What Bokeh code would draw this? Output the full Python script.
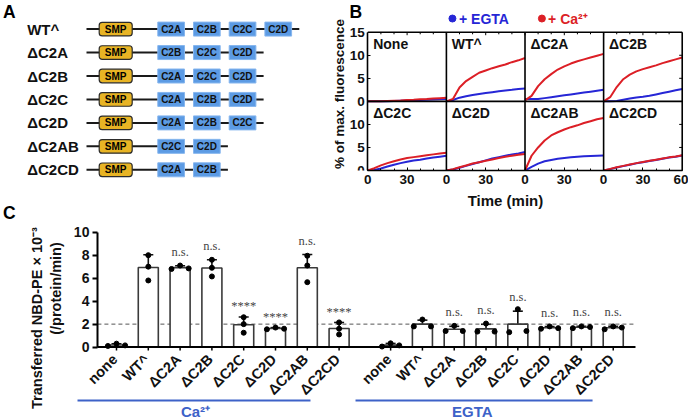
import numpy as np
from math import pi
from bokeh.plotting import figure
from bokeh.models import FixedTicker, Whisker, TeeHead, ColumnDataSource
from bokeh.layouts import column, row
from bokeh.embed import file_html
from bokeh.resources import INLINE
from bokeh.core.properties import value

FONT = "Liberation Sans"
SERIF = "Liberation Serif"
RED = "#dc1f26"
BLUE = "#2626d6"

# ---------------- Panel A data ----------------
constructs = ["WT^", "ΔC2A", "ΔC2B", "ΔC2C", "ΔC2D", "ΔC2AB", "ΔC2CD"]
construct_domains = [
    ["C2A", "C2B", "C2C", "C2D"],
    ["C2B", "C2C", "C2D"],
    ["C2A", "C2C", "C2D"],
    ["C2A", "C2B", "C2D"],
    ["C2A", "C2B", "C2C"],
    ["C2C", "C2D"],
    ["C2A", "C2B"],
]
smp_label = "SMP"

# ---------------- Panel B data ----------------
time_min = [0, 5, 10, 15, 20, 25, 30, 35, 40, 45, 50, 55, 60]
panel_names = ["None", "WT^", "ΔC2A", "ΔC2B", "ΔC2C", "ΔC2D", "ΔC2AB", "ΔC2CD"]
none_egta = [0, 0, 0, 0.05, 0.1, 0.15, 0.2, 0.25, 0.3, 0.35, 0.4, 0.45, 0.5]
none_ca = [0, 0, 0.05, 0.1, 0.15, 0.2, 0.3, 0.35, 0.45, 0.5, 0.6, 0.7, 0.8]
wt_egta = [0, 0.3, 0.8, 1.1, 1.4, 1.6, 1.8, 2.0, 2.2, 2.35, 2.5, 2.7, 2.8]
wt_ca = [0, 0.5, 3.0, 4.4, 5.3, 6.2, 6.7, 7.2, 7.6, 8.0, 8.5, 8.9, 9.4]
c2a_egta = [0.5, 0.5, 0.5, 0.7, 0.9, 1.1, 1.3, 1.5, 1.7, 1.9, 2.1, 2.3, 2.5]
c2a_ca = [0.2, 1.2, 3.3, 4.8, 5.9, 6.9, 7.6, 8.2, 8.7, 9.1, 9.5, 9.9, 10.3]
c2b_egta = [0, 0, 0.1, 0.35, 0.6, 0.85, 1.0, 1.2, 1.5, 1.8, 2.1, 2.4, 2.7]
c2b_ca = [0, 0.9, 3.1, 4.8, 5.8, 6.5, 7.0, 7.4, 7.8, 8.3, 8.7, 9.1, 9.5]
c2c_egta = [0, 0.1, 0.45, 0.85, 1.25, 1.6, 1.9, 2.15, 2.35, 2.6, 2.8, 3.0, 3.2]
c2c_ca = [0, 0.5, 1.1, 1.6, 2.0, 2.4, 2.7, 2.9, 3.1, 3.3, 3.5, 3.7, 3.85]
c2d_egta = [0, 0.2, 0.6, 1.0, 1.4, 1.8, 2.2, 2.6, 2.9, 3.2, 3.5, 3.7, 4.0]
c2d_ca = [0, 0.3, 0.7, 1.1, 1.5, 1.8, 2.1, 2.4, 2.7, 3.0, 3.2, 3.4, 3.6]
c2ab_egta = [0, 0.8, 1.5, 2.0, 2.3, 2.55, 2.7, 2.85, 3.0, 3.1, 3.15, 3.2, 3.25]
c2ab_ca = [0, 3.2, 5.0, 6.5, 7.6, 8.3, 8.9, 9.4, 9.8, 10.3, 10.7, 11.1, 11.4]
c2cd_egta = [0, 0.3, 0.65, 0.95, 1.25, 1.55, 1.8, 2.05, 2.3, 2.55, 2.8, 3.0, 3.25]
c2cd_ca = [0, 0.35, 0.7, 1.0, 1.3, 1.6, 1.85, 2.1, 2.35, 2.6, 2.85, 3.05, 3.3]
egta_curves = [none_egta, wt_egta, c2a_egta, c2b_egta, c2c_egta, c2d_egta, c2ab_egta, c2cd_egta]
ca_curves = [none_ca, wt_ca, c2a_ca, c2b_ca, c2c_ca, c2d_ca, c2ab_ca, c2cd_ca]
legend_labels = ["+ EGTA", "+ Ca²⁺"]

# ---------------- Panel C data ----------------
bar_labels = ["none", "WT^", "ΔC2A", "ΔC2B", "ΔC2C", "ΔC2D", "ΔC2AB", "ΔC2CD"]
ca_reps = [[0.1, 0.3, 0.15], [7.0, 8.0, 5.8], [6.8, 7.1, 6.85], [6.9, 7.6, 6.15],
           [2.0, 2.6, 1.25], [1.55, 1.7, 1.6], [7.1, 7.95, 5.65], [1.6, 2.15, 1.1]]
egta_reps = [[0.05, 0.33, 0.15], [1.8, 2.4, 1.8], [1.4, 1.85, 1.4], [1.35, 2.05, 1.35],
             [1.3, 3.3, 1.4], [1.6, 1.8, 1.65], [1.65, 1.8, 1.75], [1.55, 1.8, 1.7]]
ca_sig = ["", "", "n.s.", "n.s.", "****", "****", "n.s.", "****"]
egta_sig = ["", "", "n.s.", "n.s.", "n.s.", "n.s.", "n.s.", "n.s."]
group_names = ["Ca²⁺", "EGTA"]
threshold = 2.0
y_ticks_c = [0, 2, 4, 6, 8, 10]

TOP_H = 222

# =============== Panel A figure (pixel-like coordinates) ===============
WA = 300
pa = figure(width=WA, height=TOP_H, x_range=(0, WA), y_range=(TOP_H, 0),
            toolbar_location=None, output_backend="svg", min_border=0,
            x_axis_location=None, y_axis_location=None)
pa.frame_align = False
pa.grid.visible = False
pa.outline_line_color = None

row_y = [28.6 + 23.45 * i for i in range(len(constructs))]
box_w, box_step, box_x0 = 26.7, 35.7, 157.3
line_end = [box_x0 + box_step * (len(d) - 1) + box_w + 7.7 for d in construct_domains]
pa.segment(x0=[86] * len(row_y), y0=row_y, x1=line_end, y1=row_y, line_color="#1a1a1a", line_width=2)
pa.rect(x=[115.2] * len(row_y), y=row_y, width=33, height=13.6, fill_color="#e8b424",
        line_color="#2b2b2b", line_width=1.2, border_radius=3)
pa.text(x=[115.2] * len(row_y), y=row_y, text=[smp_label] * len(row_y), text_align="center",
        text_baseline="middle", text_font=value(FONT), text_font_style="bold", text_font_size="10px")
bx, by, bt = [], [], []
for yy, doms in zip(row_y, construct_domains):
    for k, d in enumerate(doms):
        bx.append(box_x0 + box_step * k + box_w / 2)
        by.append(yy)
        bt.append(d)
pa.rect(x=bx, y=by, width=box_w, height=14, fill_color="#5c9be4", line_color="#86b6ee", line_width=1)
pa.text(x=bx, y=by, text=bt, text_align="center", text_baseline="middle", text_font=value(FONT),
        text_font_style="bold", text_font_size="10px", text_color="#111111")
pa.text(x=[26.7] * len(row_y), y=row_y, text=constructs, text_align="left", text_baseline="middle",
        text_font=value(FONT), text_font_style="bold", text_font_size="15px", text_color="#111111")
pa.text(x=[2.5, 2.5], y=[11.5, 212.5], text=["A", "C"], text_align="left", text_baseline="middle",
        text_font=value(FONT), text_font_style="bold", text_font_size="17.5px", text_color="#000000")

# =============== Panel B figure ===============
WB = 688 - WA
XS, XE = -34.58, 244.8   # time 0 at page x 367.3, 1.31 px/min
pb = figure(width=WB, height=TOP_H, x_range=(XS, XE), y_range=(0, 36.88),
            toolbar_location=None, output_backend="svg",
            min_border_left=22, min_border_right=0, min_border_top=0, min_border_bottom=TOP_H - 170)
pb.frame_align = False
pb.grid.visible = False
pb.outline_line_color = None
t = np.array(time_min, dtype=float)
for i in range(8):
    r, c = divmod(i, 4)
    xo, yo = 60 * c, 15 * (1 - r)
    pb.line(t + xo, np.array(egta_curves[i]) + yo, line_color=BLUE, line_width=2)
    pb.line(t + xo, np.array(ca_curves[i]) + yo, line_color=RED, line_width=2)
    pb.text(x=[xo + 4.1], y=[yo + 15 - 2.45], text=[panel_names[i]], text_align="left",
            text_baseline="middle", text_font=value(FONT), text_font_style="bold",
            text_font_size="14px", text_color="#111111")
# panel separators and top/right borders
pb.segment(x0=[60, 120, 180, 240], y0=[0] * 4, x1=[60, 120, 180, 240], y1=[30] * 4,
           line_color="black", line_width=1.6)
pb.segment(x0=[0, 0], y0=[15, 30], x1=[240, 240], y1=[15, 30], line_color="black", line_width=1.6)
# inner ticks along top and right edges
top_tx = list(range(10, 240, 10))
pb.segment(x0=top_tx, y0=[30] * len(top_tx), x1=top_tx,
           y1=[30 - (0.65 if v % 30 == 0 else 0.45) for v in top_tx], line_color="black", line_width=1)
right_ty = [5, 10, 20, 25]
pb.segment(x0=[240] * 4, y0=right_ty, x1=[237.7] * 4, y1=right_ty, line_color="black", line_width=1)

xt = list(range(0, 241, 30))
pb.xaxis.ticker = FixedTicker(ticks=xt, minor_ticks=list(range(0, 241, 10)))
pb.xaxis.major_label_overrides = {v: str(v % 60 if v < 240 else 60) for v in xt}
pb.xaxis.bounds = (0, 240)
yt = list(range(0, 31, 5))
pb.yaxis.ticker = FixedTicker(ticks=yt)
pb.yaxis.major_label_overrides = {v: str(v % 15 if v < 30 else 15) for v in yt}
pb.yaxis.bounds = (0, 30)
pb.yaxis.fixed_location = 0
for ax in (pb.xaxis[0], pb.yaxis[0]):
    ax.major_tick_in = 3
    ax.major_tick_out = 0
    ax.minor_tick_in = 2
    ax.minor_tick_out = 0
    ax.axis_line_width = 1.6
    ax.major_label_text_font = FONT
    ax.major_label_text_font_style = "bold"
    ax.major_label_text_font_size = "13.5px"
    ax.major_label_text_color = "#111111"
    ax.major_label_standoff = 3
pb.yaxis.minor_tick_line_color = None
pb.xaxis.major_label_standoff = 4
pb.xaxis.axis_label = "Time (min)"
pb.xaxis.axis_label_text_font = FONT
pb.xaxis.axis_label_text_font_style = "bold"
pb.xaxis.axis_label_text_color = "#111111"
pb.xaxis.axis_label_text_font_size = "15px"
pb.xaxis.axis_label_standoff = 5

pb.text(x=[-21.6], y=[16.6], text=["% of max. fluorescence"], angle=pi / 2, text_align="center",
        text_baseline="middle", text_font=value(FONT), text_font_style="bold",
        text_font_size="13.5px", text_color="#111111")
pb.text(x=[-13.97], y=[34.49], text=["B"], text_align="left", text_baseline="middle",
        text_font=value(FONT), text_font_style="bold", text_font_size="17.5px", text_color="#000000")
pb.scatter(x=[64.6, 132.9], y=[32.97, 32.97], size=7, fill_color=[BLUE, RED], line_color=[BLUE, RED])
pb.text(x=[69.6, 137.6], y=[32.97, 32.97], text=legend_labels, text_align="left",
        text_baseline="middle", text_font=value(FONT), text_font_style="bold",
        text_font_size="14px", text_color=[BLUE, RED])

# =============== Panel C figure ===============
HC = 419 - TOP_H
C_LEFT = 26
step = 1.0
group_gap = 1.62
axis_x = -0.6
base_end = 16.32
pos_ca = [i * step for i in range(len(bar_labels))]
pos_eg = [pos_ca[-1] + group_gap + i * step for i in range(len(bar_labels))]

pc = figure(width=688, height=HC, x_range=(-2.830, 17.987), y_range=(-6.30, 10.844),
            toolbar_location=None, output_backend="svg",
            min_border_left=C_LEFT, min_border_right=0, min_border_top=0, min_border_bottom=0)
pc.frame_align = False
pc.grid.visible = False
pc.outline_line_color = None
pc.xaxis.visible = False
ya = pc.yaxis[0]
ya.fixed_location = axis_x
ya.bounds = (0, 10)
ya.ticker = FixedTicker(ticks=y_ticks_c)
ya.minor_tick_line_color = None
ya.major_tick_out = 5
ya.major_tick_in = 0
ya.axis_line_width = 2
ya.major_tick_line_width = 2
ya.major_label_text_font = FONT
ya.major_label_text_font_style = "bold"
ya.major_label_text_font_size = "14px"
ya.major_label_text_color = "#111111"
ya.major_label_standoff = 3

pc.text(x=[-2.494, -1.887], y=[2.53, 5.10], text=["Transferred NBD-PE × 10⁻³", "(/protein/min)"],
        angle=pi / 2, text_align="center", text_baseline="middle", text_font=value(FONT),
        text_font_style="bold", text_font_size="14.5px", text_color="#111111")

# dashed threshold
pc.segment(x0=[axis_x], y0=[threshold], x1=[base_end], y1=[threshold], line_color="#555555",
           line_width=1, line_dash="4 3")

def jitter(vals):
    offs = []
    for i, v in enumerate(vals):
        close = any(abs(v - w) < 0.4 for j, w in enumerate(vals) if j != i)
        offs.append([-0.27, 0.0, 0.27][i] if close else 0.0)
    return offs

all_pos = pos_ca + pos_eg
all_reps = ca_reps + egta_reps
all_sig = ca_sig + egta_sig
means = [float(np.mean(r)) for r in all_reps]
sds = [float(np.std(r, ddof=1)) for r in all_reps]
upper = [m + s for m, s in zip(means, sds)]
lower = [m - s for m, s in zip(means, sds)]

pc.vbar(x=all_pos, top=means, bottom=0, width=0.63, fill_color="white", line_color="#3a3a3a",
        line_width=1.6)
wsrc = ColumnDataSource(dict(base=all_pos, upper=upper, lower=lower))
pc.add_layout(Whisker(source=wsrc, base="base", upper="upper", lower="lower", dimension="height",
                      line_color="#111111", line_width=1.6,
                      upper_head=TeeHead(size=10, line_color="#111111", line_width=1.6),
                      lower_head=TeeHead(size=10, line_color="#111111", line_width=1.6)))
px, py = [], []
for p0, reps in zip(all_pos, all_reps):
    for o, v in zip(jitter(reps), reps):
        px.append(p0 + o)
        py.append(v)
pc.scatter(px, py, size=5, fill_color="#000000", line_color="#000000")

# baseline with ticks
pc.segment(x0=[axis_x], y0=[0], x1=[base_end], y1=[0], line_color="#000000", line_width=2)
pc.segment(x0=all_pos, y0=[0] * len(all_pos), x1=all_pos, y1=[-0.3] * len(all_pos),
           line_color="#000000", line_width=1.5)

# significance
sx, sy, st = [], [], []
for p0, u, s in zip(all_pos, upper, all_sig):
    if s:
        sx.append(p0)
        sy.append(u + (0.6 if s == "n.s." else 0.3))
        st.append(s)
pc.text(x=sx, y=sy, text=st, text_align="center", text_baseline="bottom", text_font=value(SERIF),
        text_font_size="12.5px", text_color="#444444")

# category labels
pc.text(x=[p - 0.05 for p in all_pos], y=[-0.85] * len(all_pos), text=bar_labels + bar_labels,
        angle=pi / 4, text_align="right", text_baseline="middle", text_font=value(FONT),
        text_font_style="bold", text_font_size="14.5px", text_color="#111111")

# group lines + labels
pc.segment(x0=[-1.226, 7.516], y0=[-4.65, -4.65], x1=[6.10, 14.97], y1=[-4.65, -4.65],
           line_color="#3d62c8", line_width=2)
pc.text(x=[2.484, 11.19], y=[-5.6, -5.6], text=group_names, text_align="center",
        text_baseline="middle", text_font=value(FONT), text_font_style="bold",
        text_font_size="15px", text_color="#3d62c8")

layout = column(row(pa, pb), pc)
open("out.html", "w").write(file_html(layout, INLINE))
